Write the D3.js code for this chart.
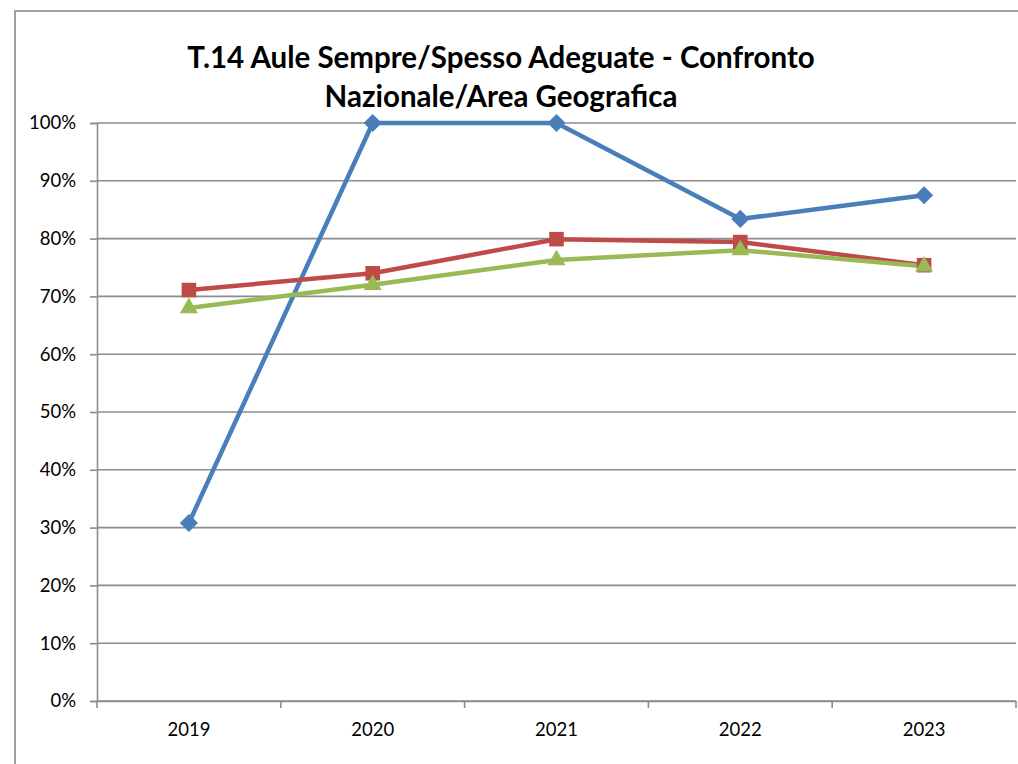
<!DOCTYPE html>
<html>
<head>
<meta charset="utf-8">
<script src="https://cdn.jsdelivr.net/npm/d3@7"></script>
<style>
  body { margin: 0; background: #fff; }
  svg { display: block; }
</style>
</head>
<body>
<svg id="chart" width="1018" height="764"></svg>
<script>
// data
const years = ["2019", "2020", "2021", "2022", "2023"];
const seriesBlue = [30.8, 100, 100, 83.4, 87.5];
const seriesRed = [71.1, 74.0, 79.9, 79.4, 75.4];
const seriesGreen = [68.0, 72.0, 76.3, 78.0, 75.2];
const yTicks = [0, 10, 20, 30, 40, 50, 60, 70, 80, 90, 100];
const titleLines = ["T.14 Aule Sempre/Spesso Adeguate - Confronto", "Nazionale/Area Geografica"];

const svg = d3.select("#chart");
const font = "Lato, 'Open Sans', sans-serif";

// outer chart frame (cut off on right/bottom like the reference)
svg.append("rect")
    .attr("x", 15).attr("y", 11)
    .attr("width", 1100).attr("height", 900)
    .attr("fill", "none").attr("stroke", "#a0a0a0").attr("stroke-width", 2);

const plotLeft = 97, plotRight = 1016, plotTop = 123, plotBottom = 701;

const x = d3.scaleBand().domain(years).range([plotLeft, plotRight]);
const y = d3.scaleLinear().domain([0, 100]).range([plotBottom, plotTop]);

// gridlines
svg.append("g")
    .selectAll("line")
    .data(yTicks)
    .join("line")
    .attr("x1", plotLeft).attr("x2", plotRight)
    .attr("y1", d => y(d)).attr("y2", d => y(d))
    .attr("stroke", "#8c8c8c").attr("stroke-width", 1.6);

// y axis
const yAxis = svg.append("g")
    .attr("transform", `translate(${plotLeft},0)`)
    .call(d3.axisLeft(y).tickValues(yTicks).tickFormat(d => d + "%").tickSize(7).tickPadding(14));
yAxis.select(".domain").attr("stroke", "#8c8c8c").attr("stroke-width", 1.6);
yAxis.selectAll(".tick line").attr("stroke", "#8c8c8c").attr("stroke-width", 1.6);
yAxis.selectAll("text").attr("font-family", font).attr("font-size", 18.5).attr("fill", "#000");

// x axis
const xAxis = svg.append("g")
    .attr("transform", `translate(0,${plotBottom})`)
    .call(d3.axisBottom(x).tickSize(0).tickPadding(22));
xAxis.select(".domain").attr("stroke", "#8c8c8c").attr("stroke-width", 1.6);
xAxis.selectAll("text").attr("font-family", font).attr("font-size", 18.5).attr("fill", "#000");
// category boundary ticks
xAxis.append("g")
    .selectAll("line")
    .data(years.concat(["end"]))
    .join("line")
    .attr("x1", (d, i) => plotLeft + i * x.step()).attr("x2", (d, i) => plotLeft + i * x.step())
    .attr("y1", 0).attr("y2", 7)
    .attr("stroke", "#8c8c8c").attr("stroke-width", 1.6);

const cx = (d, i) => x(years[i]) + x.bandwidth() / 2;

const series = [
    { values: seriesBlue, color: "#4a7ebb", symbol: d3.symbolDiamond2, size: 210 },
    { values: seriesRed, color: "#be4b48", symbol: d3.symbolSquare2, size: 270 },
    { values: seriesGreen, color: "#98b954", symbol: d3.symbolTriangle2, size: 230 }
];

const line = d3.line().x(cx).y(d => y(d));

series.forEach(s => {
    svg.append("path")
        .datum(s.values)
        .attr("d", line)
        .attr("fill", "none")
        .attr("stroke", s.color)
        .attr("stroke-width", 4.5)
        .attr("stroke-linejoin", "round");
});

series.forEach(s => {
    svg.append("g")
        .selectAll("path")
        .data(s.values)
        .join("path")
        .attr("transform", (d, i) => `translate(${cx(d, i)},${y(d)})`)
        .attr("d", d3.symbol().type(s.symbol).size(s.size))
        .attr("fill", s.color);
});

// title
svg.append("text")
    .attr("x", 501).attr("y", 68)
    .attr("text-anchor", "middle")
    .attr("font-family", font).attr("font-weight", "bold").attr("font-size", 29.5)
    .text(titleLines[0]);
svg.append("text")
    .attr("x", 501).attr("y", 107)
    .attr("text-anchor", "middle")
    .attr("font-family", font).attr("font-weight", "bold").attr("font-size", 29.5)
    .text(titleLines[1]);
</script>
</body>
</html>
